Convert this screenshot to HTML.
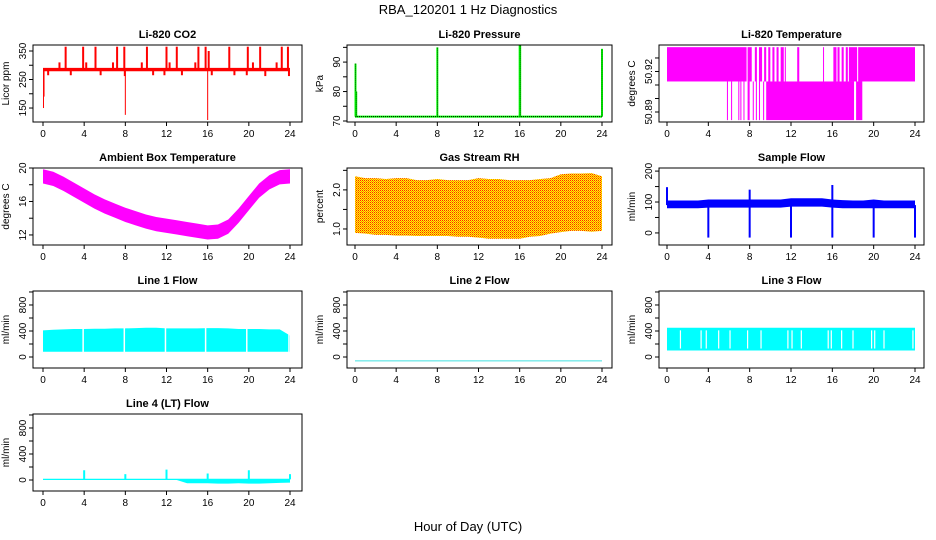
<!DOCTYPE html>
<html><head><meta charset="utf-8"><style>
html,body{margin:0;padding:0;background:#fff}
svg{display:block;font-family:"Liberation Sans",Arial,sans-serif}
</style></head><body>
<svg id="chart" width="936" height="540" viewBox="0 0 936 540" xmlns="http://www.w3.org/2000/svg">
<defs>
<pattern id="rhpat" width="2" height="2" patternUnits="userSpaceOnUse">
<rect width="2" height="2" fill="#ffff00"/><rect width="1" height="1" fill="#ff2000"/><rect x="1" y="1" width="1" height="1" fill="#ff8000"/>
</pattern>
</defs>
<text x="468" y="14" text-anchor="middle" font-size="13">RBA_120201  1 Hz Diagnostics</text>
<text x="468" y="531" text-anchor="middle" font-size="13">Hour of Day (UTC)</text>
</svg>
<script>
// ---- data ----
const xTicks = [0,4,8,12,16,20,24];
const hours = [0,1,2,3,4,5,6,7,8,9,10,11,12,13,14,15,16,17,18,19,20,21,22,23,24];

const co2Low = 279, co2High = 291, co2Base = 285;
const co2SpikeHours = [2.2,3.9,5.1,7.2,7.9,10.1,12.0,13.0,15.1,15.8,18.1,19.9,21.1,23.2,23.8,1.6,4.2,6.8,9.6,12.3,14.8,20.4,22.7,0.5,2.7,5.6,7.95,10.7,11.8,13.5,16.4,18.6,19.8,21.6,23.9,0.05,0.1,8.0,16.0,16.1];
const co2SpikeValues = [365,365,365,365,365,365,365,365,365,365,365,365,365,365,365,310,310,310,310,310,310,310,310,265,265,265,262,265,265,265,265,265,265,262,262,150,190,126,108,350];
const co2Ticks = [150,200,250,300,350], co2Labels = ["150","","250","","350"];

const presBase = 71.5;
const presSpikeHours = [0.05,0.12,8.0,16.0,16.05,24.0];
const presSpikeValues = [89.5,80,95,95.8,95.8,94.5];
const presTicks = [70,75,80,85,90,95], presLabels = ["70","","80","","90",""];

const tempHi = 50.938, tempMid = 50.9126, tempLo = 50.884;
const tempUpperOn = [[0,7.7],[7.8,8.2],[8.5,8.7],[8.9,9.2],[9.4,9.6],[9.8,10.0],[10.2,10.4],[10.6,10.8],[11.0,11.3],[11.4,11.5],[12.6,12.8],[15.1,15.15],[16.1,16.4],[16.5,16.7],[16.9,17.1],[17.3,17.5],[17.6,18.4],[18.5,24]];
const tempLowerOn = [[5.8,5.9],[6.2,6.3],[6.9,7.0],[7.1,7.2],[7.4,7.45],[7.8,8.0],[8.3,8.4],[8.6,8.7],[8.9,9.0],[9.3,9.4],[9.6,18.1],[18.3,18.9]];
const tempTicks = [50.89,50.90,50.91,50.92,50.93], tempLabels = ["50.89","","","50.92",""];

const ambCenter = [19.0,18.7,18.1,17.4,16.7,16.0,15.4,14.9,14.4,14.0,13.6,13.3,13.1,12.9,12.7,12.5,12.3,12.4,13.0,14.3,15.8,17.3,18.3,18.9,19.0];
const ambHalf = 0.85;
const ambTicks = [12,14,16,18,20], ambLabels = ["12","","16","","20"];

const rhHigh = [2.35,2.3,2.3,2.28,2.3,2.3,2.25,2.25,2.28,2.25,2.25,2.25,2.3,2.28,2.28,2.25,2.25,2.25,2.28,2.3,2.4,2.42,2.42,2.43,2.35];
const rhLow = [0.9,0.88,0.85,0.85,0.83,0.83,0.82,0.82,0.82,0.82,0.8,0.8,0.78,0.75,0.75,0.75,0.75,0.8,0.82,0.88,0.92,0.95,0.95,0.93,0.95];
const rhTicks = [1.0,1.5,2.0,2.5], rhLabels = ["1.0","","2.0",""];

const sfLow = [80,80,80,80,82,82,82,82,82,82,82,82,85,85,85,85,82,80,80,80,80,80,80,80,80];
const sfHigh = [105,105,105,105,108,108,108,108,108,108,108,108,112,112,112,112,108,106,105,105,108,105,105,105,105];
const sfDipHours = [4,8,12,16,20,24], sfDipValues = [-15,-15,-15,-15,-15,-15];
const sfSpikeHours = [0,8,16], sfSpikeValues = [148,140,155];
const sfTicks = [0,50,100,150,200], sfLabels = ["0","","100","","200"];

const flowTicks = [0,200,400,600,800,1000], flowLabels = ["0","","400","","800",""];
const l1Low = 80;
const l1High = [410,420,425,430,430,435,435,440,440,445,450,450,440,440,440,440,445,445,440,430,430,430,425,425,330];
const l1Gaps = [3.9,7.9,11.9,15.8,19.8,23.9];
const l2Value = -60;
const l3Low = 100, l3High = 450;
const l3Gaps = [1.3,3.3,3.8,5.0,6.1,7.8,9.1,11.7,12.1,13.0,15.6,15.9,16.9,18.0,19.8,20.1,21.0,23.8];
const l4Low = [0,0,0,0,0,0,0,0,0,0,0,0,0,0,-50,-50,-50,-55,-55,-50,-55,-55,-50,-45,-40];
const l4High = 20;
const l4SpikeHours = [4,8,12,16,20,24], l4SpikeValues = [150,90,160,100,150,90];

// ---- drawing ----
const NS = "http://www.w3.org/2000/svg";
const svg = document.getElementById('chart');
const colBox = [[33,302,43,290],[347,612,355,602],[659,924,667,915]];
const rowTop = [45,168,291,414];
function mk(tag, attrs, parent){const e=document.createElementNS(NS,tag);for(const k in attrs)e.setAttribute(k,attrs[k]);(parent||svg).appendChild(e);return e;}

function panel(name, row, col, ymin, ymax, ticks, labels, title, ytitle){
  const [L,R,X0,X24] = colBox[col]; const T=rowTop[row], B=T+77;
  const g = mk('g',{});
  
  
  const sx = h => X0 + (X24-X0)*h/24;
  const sy = v => B - (v-ymin)/(ymax-ymin)*(B-T);
  const plot = mk('g',{},g);
  
  
  const cp = mk('clipPath',{id:'cp'+name},g); mk('rect',{x:L,y:T,width:R-L,height:B-T},cp);
  plot.setAttribute('clip-path','url(#cp'+name+')');
  const box = mk('rect',{x:L,y:T,width:R-L,height:B-T,fill:'none',stroke:'#000','stroke-width':1},g);
  
  
  const t = mk('text',{x:(L+R)/2,y:T-7,'text-anchor':'middle','font-size':11,'font-weight':'bold'},g); t.textContent=title;
  
  
  const yt = mk('text',{transform:`translate(${L-24},${(T+B)/2}) rotate(-90)`,'text-anchor':'middle','font-size':10},g); yt.textContent=ytitle;
  
  
  xTicks.forEach(h=>{
    mk('line',{x1:sx(h),x2:sx(h),y1:B,y2:B+4,stroke:'#000'},g);
    const tl = mk('text',{x:sx(h),y:B+15,'text-anchor':'middle','font-size':10},g); tl.textContent=h;
    
    
  });
  ticks.forEach((v,i)=>{
    const y=sy(v);
    mk('line',{x1:L,x2:L-4,y1:y,y2:y,stroke:'#000'},g);
    if(labels[i]){
      const tl = mk('text',{transform:`translate(${L-7},${y}) rotate(-90)`,'text-anchor':'middle','font-size':10},g); tl.textContent=labels[i];
      
      
    }
  });
  return {sx,sy,plot};
}
function band(p, lowArr, highArr, fill){
  let pts = hours.map((h,i)=>`${p.sx(h)},${p.sy(Array.isArray(highArr)?highArr[i]:highArr)}`);
  for(let i=hours.length-1;i>=0;i--) pts.push(`${p.sx(hours[i])},${p.sy(Array.isArray(lowArr)?lowArr[i]:lowArr)}`);
  return mk('polygon',{points:pts.join(' '),fill:fill},p.plot);
}
function vline(p,h,v1,v2,color,w){return mk('line',{x1:p.sx(h),x2:p.sx(h),y1:p.sy(v1),y2:p.sy(v2),stroke:color,'stroke-width':w},p.plot);}

// CO2
let p = panel('co2',0,0,101,371,co2Ticks,co2Labels,'Li-820 CO2','Licor ppm');
band(p,co2Low,co2High,'#ff0000');
co2SpikeHours.forEach((h,i)=>vline(p,h,co2Base,co2SpikeValues[i],'#ff0000',co2SpikeValues[i]<200?1:2));

// Pressure
p = panel('pressure',0,1,69.66,95.8,presTicks,presLabels,'Li-820 Pressure','kPa');
mk('line',{x1:p.sx(0),x2:p.sx(24),y1:p.sy(presBase),y2:p.sy(presBase),stroke:'#00ff00','stroke-width':2},p.plot);
mk('line',{x1:p.sx(0),x2:p.sx(24),y1:p.sy(presBase),y2:p.sy(presBase),stroke:'#000','stroke-width':1,'stroke-dasharray':'1,1'},p.plot);
presSpikeHours.forEach((h,i)=>{vline(p,h,presBase,presSpikeValues[i],'#00ff00',2);vline(p,h,presBase,presSpikeValues[i],'#000',0.7).setAttribute('stroke-dasharray','1,1');});

// Temperature
p = panel('temperature',0,2,50.8826,50.9396,tempTicks,tempLabels,'Li-820 Temperature','degrees C');
tempUpperOn.forEach(([a,b])=>mk('rect',{x:p.sx(a),y:p.sy(tempHi),width:Math.max(1,p.sx(b)-p.sx(a)),height:p.sy(tempMid)-p.sy(tempHi),fill:'#ff00ff'},p.plot));
tempLowerOn.forEach(([a,b])=>mk('rect',{x:p.sx(a),y:p.sy(tempMid),width:Math.max(1,p.sx(b)-p.sx(a)),height:p.sy(tempLo)-p.sy(tempMid),fill:'#ff00ff'},p.plot));

// Ambient
p = panel('ambient',1,0,10.8,20,ambTicks,ambLabels,'Ambient Box Temperature','degrees C');
band(p,ambCenter.map(v=>v-ambHalf),ambCenter.map(v=>v+ambHalf),'#ff00ff');

// RH
p = panel('rh',1,1,0.59,2.56,rhTicks,rhLabels,'Gas Stream RH','percent');
band(p,rhLow,rhHigh,'url(#rhpat)');

// Sample flow
p = panel('sampleflow',1,2,-39,210,sfTicks,sfLabels,'Sample Flow','ml/min');
band(p,sfLow,sfHigh,'#0000ff');
sfDipHours.forEach((h,i)=>vline(p,h,90,sfDipValues[i],'#0000ff',2));
sfSpikeHours.forEach((h,i)=>vline(p,h,90,sfSpikeValues[i],'#0000ff',2));

// Line 1
p = panel('line1',2,0,-169,1015,flowTicks,flowLabels,'Line 1 Flow','ml/min');
band(p,l1Low,l1High,'#00ffff');
l1Gaps.forEach(h=>vline(p,h,l1Low-10,470,'#fff',1.5));

// Line 2
p = panel('line2',2,1,-169,1015,flowTicks,flowLabels,'Line 2 Flow','ml/min');
mk('line',{x1:p.sx(0),x2:p.sx(24),y1:p.sy(l2Value),y2:p.sy(l2Value),stroke:'#40e0e0','stroke-width':1},p.plot);

// Line 3
p = panel('line3',2,2,-169,1015,flowTicks,flowLabels,'Line 3 Flow','ml/min');
band(p,l3Low,l3High,'#00ffff');
l3Gaps.forEach(h=>vline(p,h,l3Low+30,l3High-40,'#fff',1.2));

// Line 4
p = panel('line4',3,0,-169,1015,flowTicks,flowLabels,'Line 4 (LT) Flow','ml/min');
band(p,l4Low,l4High,'#00ffff');
l4SpikeHours.forEach((h,i)=>vline(p,h,10,l4SpikeValues[i],'#00ffff',2));
</script>
</body></html>
